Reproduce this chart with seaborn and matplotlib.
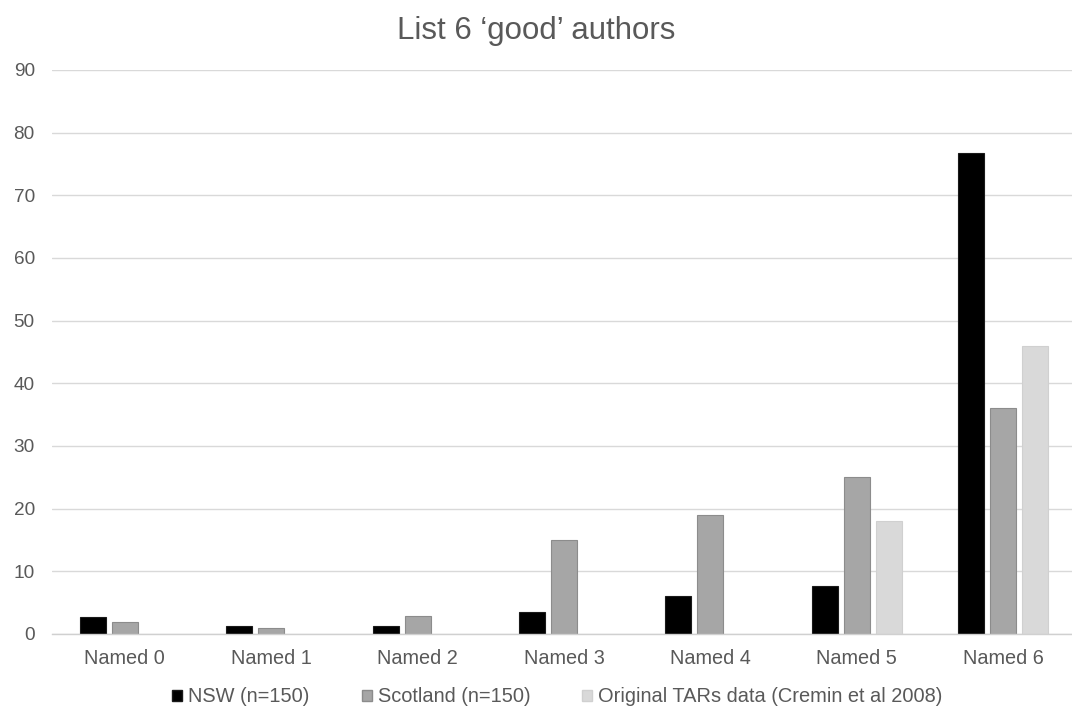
import matplotlib
matplotlib.use("Agg")
import matplotlib.pyplot as plt
from matplotlib.patches import Patch
import seaborn as sns
import pandas as pd

categories = ["Named 0", "Named 1", "Named 2", "Named 3", "Named 4", "Named 5", "Named 6"]
series_names = ["NSW (n=150)", "Scotland (n=150)", "Original TARs data (Cremin et al 2008)"]
nsw = [2.7, 1.3, 1.3, 3.5, 6.1, 7.6, 76.7]
scotland = [1.9, 0.9, 2.9, 15.0, 19.0, 25.0, 36.0]
tars = [0, 0, 0, 0, 0, 18.0, 46.0]
y_ticks = [0, 10, 20, 30, 40, 50, 60, 70, 80, 90]

fills = ["#000000", "#a6a6a6", "#d9d9d9"]
edges = ["#1a1a1a", "#8c8c8c", "#d0d0d0"]
text_color = "#595959"

rows = []
for name, vals in zip(series_names, [nsw, scotland, tars]):
    for cat, v in zip(categories, vals):
        rows.append({"category": cat, "series": name, "value": v})
df = pd.DataFrame(rows)

sns.set_theme(style="white")
plt.rcParams["font.family"] = ["Liberation Sans", "DejaVu Sans"]

fig = plt.figure(figsize=(10.72, 7.07), dpi=100)
ax = fig.add_axes([51.5 / 1072, 1 - 634 / 707, 1025 / 1072, (634 - 70) / 707])

sns.barplot(data=df, x="category", y="value", hue="series", hue_order=series_names,
            order=categories, palette=fills, width=0.656, gap=0.19, ax=ax,
            legend=False, errorbar=None, saturation=1)

# per-series outline colors; empty bars are not drawn
for container, ec in zip(ax.containers, edges):
    for bar in container:
        bar.set_edgecolor(ec)
        bar.set_linewidth(0.8)
        if bar.get_height() == 0:
            bar.set_visible(False)

ax.set_ylim(0, 90)
ax.set_xlim(-0.5, len(categories) - 0.5)
ax.set_yticks(y_ticks)
ax.yaxis.grid(True, color="#d9d9d9", linewidth=1)
ax.set_axisbelow(True)
for side in ["top", "right", "left"]:
    ax.spines[side].set_visible(False)
ax.spines["bottom"].set_color("#d0d0d0")
ax.spines["bottom"].set_linewidth(1)
ax.tick_params(axis="x", length=0, labelsize=14.3, colors=text_color, pad=11)
ax.tick_params(axis="y", length=0, labelsize=13.7, colors=text_color, pad=12)
ax.set_xlabel("")
ax.set_ylabel("")

fig.text(0.5, 1 - 31 / 707, "List 6 \u2018good\u2019 authors", ha="center", va="center",
         fontsize=22.5, color=text_color)

handles = [Patch(facecolor=f, edgecolor=e, label=n) for f, e, n in zip(fills, edges, series_names)]
fig.legend(handles=handles, loc="center", bbox_to_anchor=(0.52, 1 - 697 / 707), ncol=3,
           frameon=False, fontsize=14.4, handlelength=0.5, handleheight=0.5,
           handletextpad=0.3, columnspacing=2.6, labelcolor=text_color,
           borderpad=0, borderaxespad=0)

fig.savefig("out.png", dpi=100, facecolor="white")
